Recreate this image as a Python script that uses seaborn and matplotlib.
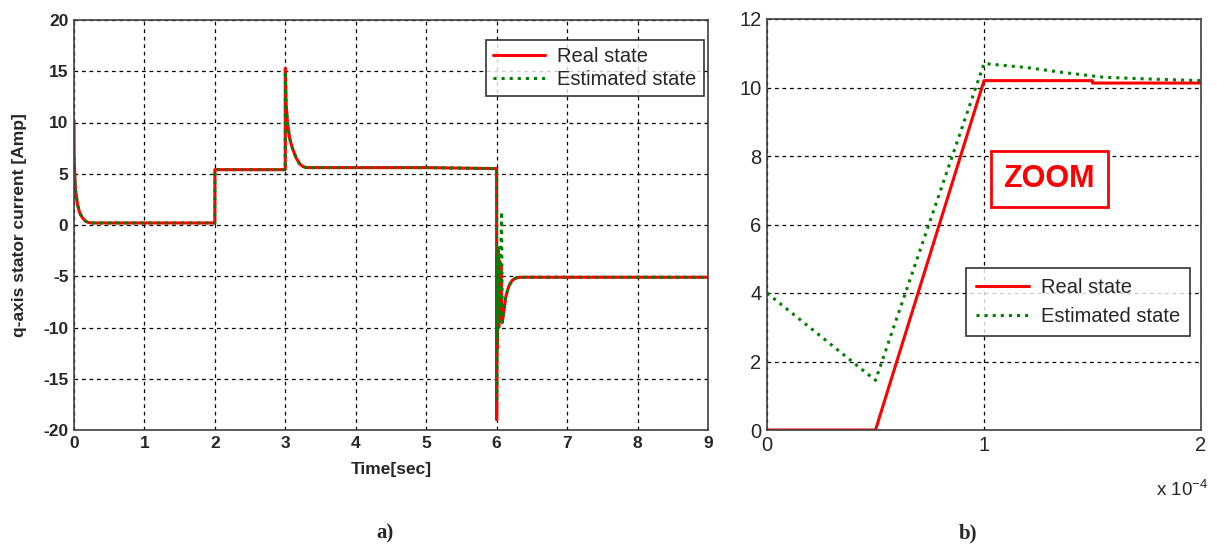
import matplotlib
matplotlib.use("Agg")
import matplotlib.pyplot as plt
import seaborn as sns
import pandas as pd

# ---- data (panel a) ----
t_real = [0, 0.002, 0.02, 0.05, 0.08, 0.12, 0.16, 0.2, 0.25, 0.3, 1.0, 1.999, 2.0, 2.999,
          3.0, 3.01, 3.03, 3.06, 3.1, 3.15, 3.2, 3.25, 3.3, 4.0, 5.0, 5.999,
          6.0, 6.005, 6.01, 6.02, 6.03, 6.04, 6.05, 6.06, 6.07, 6.08, 6.1, 6.13,
          6.17, 6.22, 6.28, 6.35, 7.0, 8.0, 9.0]
i_real = [10.2, 6.5, 3.5, 2.0, 1.2, 0.7, 0.4, 0.25, 0.2, 0.2, 0.2, 0.2, 5.4, 5.4,
          15.3, 12.0, 10.0, 8.5, 7.5, 6.6, 6.0, 5.7, 5.6, 5.6, 5.6, 5.5,
          -19.0, -3.0, -12.0, -2.5, -10.0, -3.5, -9.0, -4.0, -8.0, -9.5, -8.5, -7.0,
          -6.0, -5.4, -5.15, -5.1, -5.1, -5.1, -5.1]
t_est = [0, 0.002, 0.02, 0.05, 0.08, 0.12, 0.16, 0.2, 0.25, 0.3, 1.0, 1.999, 2.0, 2.999,
         3.0, 3.01, 3.03, 3.06, 3.1, 3.15, 3.2, 3.25, 3.3, 4.0, 5.0, 5.999,
         6.0, 6.005, 6.01, 6.02, 6.03, 6.04, 6.05, 6.06, 6.07, 6.08, 6.1, 6.13,
         6.17, 6.22, 6.28, 6.35, 7.0, 8.0, 9.0]
i_est = [6.6, 6.0, 3.5, 2.0, 1.2, 0.7, 0.4, 0.25, 0.2, 0.2, 0.2, 0.2, 5.4, 5.4,
         15.0, 12.0, 10.0, 8.5, 7.5, 6.6, 6.0, 5.7, 5.6, 5.6, 5.6, 5.5,
         -17.0, -3.0, -11.0, -2.0, -9.5, -3.0, -8.5, -2.0, 1.3, -9.5, -8.5, -7.0,
         -6.0, -5.4, -5.15, -5.1, -5.1, -5.1, -5.1]

# ---- data (panel b, zoom) ----
tz_real = [0, 0.5e-4, 1.0e-4, 1.5e-4, 1.5e-4, 2.0e-4]
iz_real = [0, 0, 10.2, 10.2, 10.13, 10.13]
tz_est = [0, 0.5e-4, 1.0e-4, 1.2e-4, 1.35e-4, 1.55e-4, 1.75e-4, 2.0e-4]
iz_est = [4.0, 1.45, 10.7, 10.58, 10.45, 10.3, 10.25, 10.2]

xticks_a = list(range(0, 10))
yticks_a = [-20, -15, -10, -5, 0, 5, 10, 15, 20]
xticks_b = [0, 1e-4, 2e-4]
xticklabels_b = ["0", "1", "2"]
yticks_b = [0, 2, 4, 6, 8, 10, 12]

sns.set_theme(style="white")
plt.rcParams['font.family'] = ['Liberation Sans', 'DejaVu Sans']

fig = plt.figure(figsize=(12.17, 5.49), dpi=100)
W, H = 1217, 549

def add_ax(l, r, t, b):
    return fig.add_axes([l / W, (H - b) / H, (r - l) / W, (b - t) / H])

axa = add_ax(74, 708, 20, 430)
axb = add_ax(767, 1201, 19, 430)

RED = "#ff0000"
GREEN = "#008000"

dfa_r = pd.DataFrame({"t": t_real, "i": i_real})
dfa_e = pd.DataFrame({"t": t_est, "i": i_est})
sns.lineplot(data=dfa_r, x="t", y="i", ax=axa, color=RED, lw=2.2, sort=False,
             estimator=None, label="Real state")
sns.lineplot(data=dfa_e, x="t", y="i", ax=axa, color=GREEN, lw=2.2, ls=":", sort=False,
             estimator=None, label="Estimated state")

dfb_r = pd.DataFrame({"t": tz_real, "i": iz_real})
dfb_e = pd.DataFrame({"t": tz_est, "i": iz_est})
sns.lineplot(data=dfb_r, x="t", y="i", ax=axb, color=RED, lw=2.2, sort=False,
             estimator=None, label="Real state")
sns.lineplot(data=dfb_e, x="t", y="i", ax=axb, color=GREEN, lw=2.2, ls=":", sort=False,
             estimator=None, label="Estimated state")

for ax in (axa, axb):
    ax.grid(True, color="black", ls=(0, (3, 3)), lw=0.9)
    for s in ax.spines.values():
        s.set_color("#404040")
        s.set_linewidth(1.2)
    ax.tick_params(length=0, pad=4)
    ax.set_xlabel("")
    ax.set_ylabel("")

axa.set_xlim(0, 9)
axa.set_ylim(-20, 20)
axa.set_xticks(xticks_a)
axa.set_yticks(yticks_a)
axa.set_xticklabels([str(v) for v in xticks_a], fontsize=12.5, fontweight="bold")
axa.set_yticklabels([str(v) for v in yticks_a], fontsize=12.5, fontweight="bold")
axa.set_xlabel("Time[sec]", fontsize=12.5, fontweight="bold", labelpad=8)
axa.set_ylabel("q-axis stator current [Amp]", fontsize=12.5, fontweight="bold", labelpad=12)

axb.set_xlim(0, 2e-4)
axb.set_ylim(0, 12)
axb.set_xticks(xticks_b)
axb.set_xticklabels(xticklabels_b, fontsize=14.5)
axb.set_yticks(yticks_b)
axb.set_yticklabels([str(v) for v in yticks_b], fontsize=14.5)

leg_a = axa.legend(loc="upper right", bbox_to_anchor=(0.993, 0.951), fontsize=14.5,
                   frameon=True, fancybox=False, edgecolor="black", handlelength=2.6,
                   borderpad=0.35, labelspacing=0.2, handletextpad=0.6, borderaxespad=0)
leg_a.get_frame().set_linewidth(1.2)
leg_b = axb.legend(loc="lower right", bbox_to_anchor=(0.975, 0.229), fontsize=14.5,
                   frameon=True, fancybox=False, edgecolor="black", handlelength=2.6,
                   borderpad=0.5, labelspacing=0.5, handletextpad=0.6, borderaxespad=0)
leg_b.get_frame().set_linewidth(1.2)

axb.text(1.3e-4, 7.33, "ZOOM", color=RED, fontsize=22, fontweight="bold",
         ha="center", va="center",
         bbox=dict(boxstyle="square,pad=0.42", fc="white", ec=RED, lw=2))

fig.text(1156 / W, 1 - 490 / H, r"x $\mathregular{10^{-4}}$", fontsize=13.5, ha="left", va="center")
fig.text(385 / W, 1 - 533 / H, "a)", fontsize=15, fontweight="bold", ha="center", va="center",
         family="Liberation Serif")
fig.text(968 / W, 1 - 533 / H, "b)", fontsize=15, fontweight="bold", ha="center", va="center",
         family="Liberation Serif")

fig.savefig("out.png", dpi=100, facecolor="white")
